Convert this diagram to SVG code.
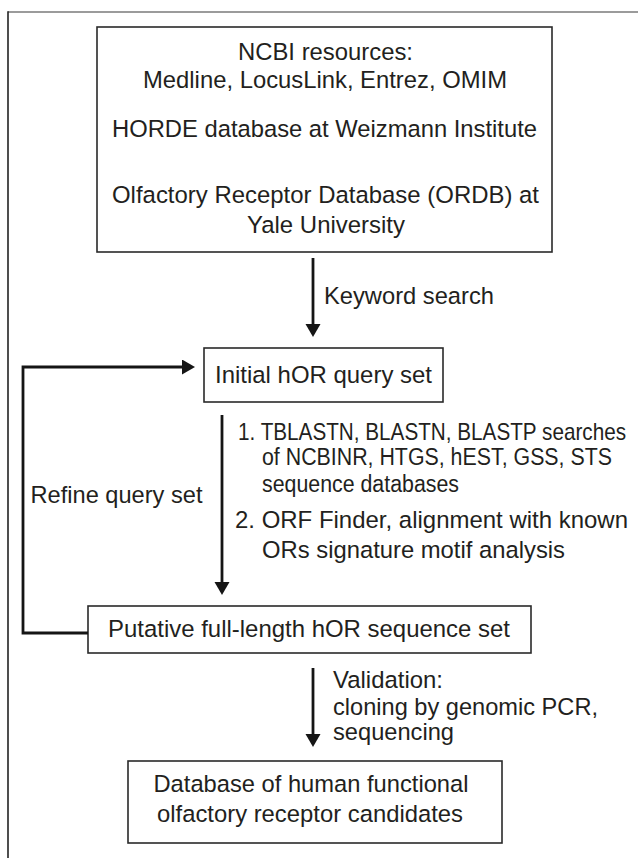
<svg xmlns="http://www.w3.org/2000/svg" width="638" height="858" viewBox="0 0 638 858">
<style>
  text { font-family: "Liberation Sans", Arial, sans-serif; font-size: 24.5px; fill: #231f20; }
  .list { font-size: 23px; }
  .box { fill: #ffffff; stroke: #2a2a2a; stroke-width: 1.6; }
  .conn { fill: none; stroke: #151515; stroke-width: 2.8; }
  .mid { text-anchor: middle; }
</style>
<defs>
  <marker id="ah" markerUnits="userSpaceOnUse" markerWidth="15" markerHeight="16" refX="0" refY="7.5" orient="auto">
    <path d="M0,0 L13,7.5 L0,15 z" fill="#151515"/>
  </marker>
</defs>
<rect width="638" height="858" fill="#ffffff"/>
<g id="frame">
  <line x1="8" y1="12" x2="638" y2="12" stroke="#7a7a7a" stroke-width="1.6"/>
  <line x1="8" y1="11.2" x2="8" y2="858" stroke="#222222" stroke-width="1.6"/>
</g>
<g id="sources">
  <rect class="box" x="97" y="27" width="455" height="225"/>
  <text x="325.5" y="60" class="mid" textLength="175" lengthAdjust="spacingAndGlyphs">NCBI resources:</text>
  <text x="325" y="88" class="mid" textLength="364" lengthAdjust="spacingAndGlyphs">Medline, LocusLink, Entrez, OMIM</text>
  <text x="324.5" y="137" class="mid" textLength="425" lengthAdjust="spacingAndGlyphs">HORDE database at Weizmann Institute</text>
  <text x="325.5" y="203" class="mid" textLength="427" lengthAdjust="spacingAndGlyphs">Olfactory Receptor Database (ORDB) at</text>
  <text x="326" y="233" class="mid" textLength="158" lengthAdjust="spacingAndGlyphs">Yale University</text>
</g>
<g id="initial">
  <rect class="box" x="204" y="348" width="239" height="54"/>
  <text x="323.5" y="383" class="mid" textLength="217" lengthAdjust="spacingAndGlyphs">Initial hOR query set</text>
</g>
<g id="putative">
  <rect class="box" x="88" y="606" width="443" height="47"/>
  <text x="309" y="637" class="mid" textLength="402" lengthAdjust="spacingAndGlyphs">Putative full-length hOR sequence set</text>
</g>
<g id="database">
  <rect class="box" x="128" y="761" width="374" height="82"/>
  <text x="311" y="792" class="mid" textLength="315" lengthAdjust="spacingAndGlyphs">Database of human functional</text>
  <text x="310" y="822" class="mid" textLength="306" lengthAdjust="spacingAndGlyphs">olfactory receptor candidates</text>
</g>
<g id="connectors">
  <line class="conn" x1="313" y1="258" x2="313" y2="324" marker-end="url(#ah)"/>
  <path class="conn" d="M88,633 H23 V367 H182" marker-end="url(#ah)"/>
  <line class="conn" x1="222" y1="415" x2="222" y2="582" marker-end="url(#ah)"/>
  <line class="conn" x1="313" y1="668" x2="313" y2="734" marker-end="url(#ah)"/>
</g>
<g id="labels">
  <text x="324" y="304" textLength="170" lengthAdjust="spacingAndGlyphs">Keyword search</text>
  <text x="30.5" y="503" textLength="172" lengthAdjust="spacingAndGlyphs">Refine query set</text>
  <text class="list" transform="translate(238,440) scale(0.9,1)" x="0" y="0">1. TBLASTN, BLASTN, BLASTP searches</text>
  <text class="list" x="262" y="465" textLength="350" lengthAdjust="spacingAndGlyphs">of NCBINR, HTGS, hEST, GSS, STS</text>
  <text class="list" x="262" y="492" textLength="197" lengthAdjust="spacingAndGlyphs">sequence databases</text>
  <text x="235" y="528" textLength="393" lengthAdjust="spacingAndGlyphs">2. ORF Finder, alignment with known</text>
  <text x="262" y="558" textLength="303" lengthAdjust="spacingAndGlyphs">ORs signature motif analysis</text>
  <text x="333" y="688" textLength="110" lengthAdjust="spacingAndGlyphs">Validation:</text>
  <text x="333" y="715" textLength="265" lengthAdjust="spacingAndGlyphs">cloning by genomic PCR,</text>
  <text x="333" y="740" textLength="121" lengthAdjust="spacingAndGlyphs">sequencing</text>
</g>
</svg>
